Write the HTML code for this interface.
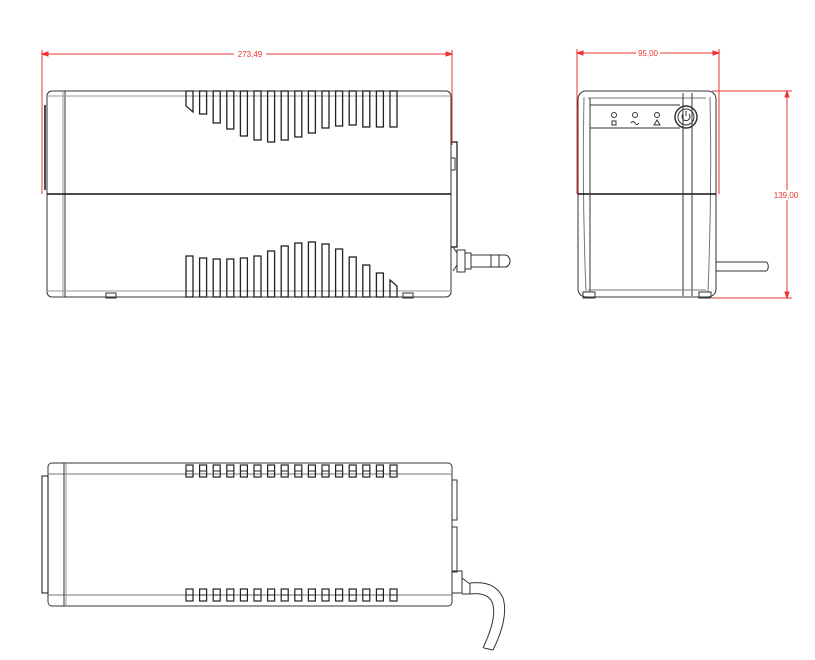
<!DOCTYPE html>
<html><head><meta charset="utf-8"><style>html,body{margin:0;padding:0;background:#fff}svg{display:block}</style></head>
<body>
<svg width="815" height="660" viewBox="0 0 815 660" xmlns="http://www.w3.org/2000/svg" font-family="Liberation Sans, sans-serif">
<g fill="none" stroke="#333" stroke-width="1">
<rect x="47" y="91" width="404" height="206" rx="5"/>
<line x1="65" y1="91" x2="65" y2="297"/>
<line x1="63" y1="91" x2="63" y2="297" stroke="#999"/>
<line x1="47" y1="96" x2="451" y2="96" stroke="#999"/>
<line x1="47" y1="291" x2="451" y2="291" stroke="#999"/>
<line x1="47" y1="194" x2="451" y2="194" stroke="#111" stroke-width="1.5"/>
<line x1="45" y1="105" x2="45" y2="190" stroke="#111" stroke-width="1.5"/>
<path d="M451 142 h6 v105 h-6" stroke="#111" stroke-width="1.2"/>
<rect x="451" y="158" width="4" height="12"/>
<path d="M453 247 l4 6 v12 l-4 6" />
<rect x="457" y="250" width="8" height="22"/>
<rect x="465" y="253" width="6" height="16"/>
<rect x="471" y="255" width="20" height="12"/>
<rect x="491" y="255" width="8" height="12"/>
<path d="M499 255 h6 a5 6 0 0 1 0 12 h-6"/>
<rect x="106" y="293" width="10" height="5"/>
<rect x="403" y="293" width="10" height="5"/>
</g>
<g fill="none" stroke="#222" stroke-width="1.3">
<path d="M186 91 v15 l7 6 V91 z"/>
<rect x="199.6" y="91" width="7" height="23"/>
<rect x="213.2" y="91" width="7" height="32"/>
<rect x="226.8" y="91" width="7" height="38"/>
<rect x="240.4" y="91" width="7" height="45"/>
<rect x="254" y="91" width="7" height="49"/>
<rect x="267.6" y="91" width="7" height="51"/>
<rect x="281.2" y="91" width="7" height="49"/>
<rect x="294.8" y="91" width="7" height="46"/>
<rect x="308.4" y="91" width="7" height="42"/>
<rect x="322" y="91" width="7" height="37"/>
<rect x="335.6" y="91" width="7" height="35"/>
<rect x="349.2" y="91" width="7" height="34"/>
<rect x="362.8" y="91" width="7" height="36"/>
<rect x="376.4" y="91" width="7" height="36"/>
<rect x="390" y="91" width="7" height="36"/>
<rect x="186" y="256" width="7" height="41"/>
<rect x="199.6" y="258" width="7" height="39"/>
<rect x="213.2" y="259" width="7" height="38"/>
<rect x="226.8" y="259" width="7" height="38"/>
<rect x="240.4" y="258" width="7" height="39"/>
<rect x="254" y="256" width="7" height="41"/>
<rect x="267.6" y="251" width="7" height="46"/>
<rect x="281.2" y="246" width="7" height="51"/>
<rect x="294.8" y="243" width="7" height="54"/>
<rect x="308.4" y="242" width="7" height="55"/>
<rect x="322" y="244" width="7" height="53"/>
<rect x="335.6" y="249" width="7" height="48"/>
<rect x="349.2" y="257" width="7" height="40"/>
<rect x="362.8" y="265" width="7" height="32"/>
<rect x="376.4" y="273" width="7" height="24"/>
<path d="M390 297 v-17 l7 6 v11 z"/>
</g>
<g stroke="#e33" stroke-width="1" fill="#e33">
<line x1="42" y1="50" x2="42" y2="194"/>
<line x1="452" y1="50" x2="452" y2="145"/>
<line x1="42" y1="54" x2="452" y2="54"/>
<path d="M42 54 l6 -2 v4 z M452 54 l-6 -2 v4 z"/>
<line x1="577" y1="49" x2="577" y2="194"/>
<line x1="719" y1="49" x2="719" y2="194"/>
<line x1="577" y1="53" x2="719" y2="53"/>
<path d="M577 53 l6 -2 v4 z M719 53 l-6 -2 v4 z"/>
<line x1="712" y1="91" x2="792" y2="91"/>
<line x1="712" y1="298" x2="792" y2="298"/>
<line x1="787" y1="91" x2="787" y2="298"/>
<path d="M787 91 l-2 6 h4 z M787 298 l-2 -6 h4 z"/>
</g>
<g fill="#e33" font-size="8" text-anchor="middle">
<rect x="234" y="49" width="32" height="9" fill="#fff"/>
<text x="250" y="57" fill="#e33">273,49</text>
<rect x="636" y="48" width="24" height="9" fill="#fff"/>
<text x="648" y="56" fill="#e33">95,00</text>
<rect x="775" y="190" width="24" height="10" fill="#fff"/>
<text x="786" y="198" fill="#e33">139,00</text>
</g>
<g fill="none" stroke="#333" stroke-width="1">
<rect x="578" y="91" width="138" height="206" rx="8"/>
<path d="M584 97 Q582 194 586 292 M710 97 Q712 194 708 292" stroke="#777"/>
<line x1="588" y1="98" x2="706" y2="98" stroke="#777"/>
<line x1="578" y1="194" x2="716" y2="194" stroke="#111" stroke-width="1.5"/>
<line x1="590" y1="105" x2="680" y2="105"/>
<line x1="590" y1="128" x2="680" y2="128"/>
<line x1="590" y1="98" x2="590" y2="292"/>
<line x1="683" y1="93" x2="683" y2="296"/>
<line x1="692" y1="93" x2="692" y2="296"/>
<line x1="588" y1="290" x2="706" y2="290" stroke="#777"/>
<circle cx="686" cy="117" r="11" stroke-width="1.5"/>
<circle cx="686" cy="117" r="8"/>
<path d="M683 114 a4 4 0 1 0 6 0 M686 111 v5"/>
<circle cx="614" cy="115" r="2.5"/><rect x="612" y="121" width="4" height="4"/>
<circle cx="635" cy="115" r="2.5"/><path d="M631 123 q2 -3 4 0 q2 3 4 0"/>
<circle cx="657" cy="115" r="2.5"/><path d="M654 125 l3 -5 l3 5 z"/>
<rect x="583" y="292" width="12" height="6"/>
<rect x="699" y="292" width="12" height="6"/>
<path d="M716 262 h50 a2 4 0 0 1 0 9 h-50"/>
</g>
<g fill="none" stroke="#333" stroke-width="1">
<rect x="48" y="463" width="404" height="143" rx="4"/>
<line x1="48" y1="474" x2="452" y2="474" stroke="#777"/>
<line x1="48" y1="595" x2="452" y2="595" stroke="#777"/>
<line x1="64" y1="463" x2="64" y2="606"/>
<line x1="66" y1="463" x2="66" y2="606" stroke="#999"/>
<rect x="42" y="476" width="6" height="117" stroke="#111"/>
<path d="M452 480 h5 v40 h-5 M452 527 h5 v45 h-5"/>
<path d="M452 571 h10 v22 h-10"/>
<path d="M462 578 l8 6 v10 l-8 0"/>
<path d="M470 583 q25 -3 33 15 q6 20 -10 52 M470 594 q17 -2 22 8 q6 14 -9 46"/>
<line x1="493" y1="650" x2="484" y2="648"/>
</g>
<g fill="none" stroke="#222" stroke-width="1.2">
<g id="r1">
<rect x="186" y="465" width="7" height="12"/><rect x="199.6" y="465" width="7" height="12"/><rect x="213.2" y="465" width="7" height="12"/><rect x="226.8" y="465" width="7" height="12"/><rect x="240.4" y="465" width="7" height="12"/><rect x="254" y="465" width="7" height="12"/><rect x="267.6" y="465" width="7" height="12"/><rect x="281.2" y="465" width="7" height="12"/><rect x="294.8" y="465" width="7" height="12"/><rect x="308.4" y="465" width="7" height="12"/><rect x="322" y="465" width="7" height="12"/><rect x="335.6" y="465" width="7" height="12"/><rect x="349.2" y="465" width="7" height="12"/><rect x="362.8" y="465" width="7" height="12"/><rect x="376.4" y="465" width="7" height="12"/><rect x="390" y="465" width="7" height="12"/>
</g>
<use href="#r1" y="124"/>
<line x1="186" y1="471" x2="397" y2="471" stroke-dasharray="7 6.6" stroke-width="1"/>
<line x1="186" y1="595" x2="397" y2="595" stroke-dasharray="7 6.6" stroke-width="1"/>
</g>
</svg>
</body></html>
